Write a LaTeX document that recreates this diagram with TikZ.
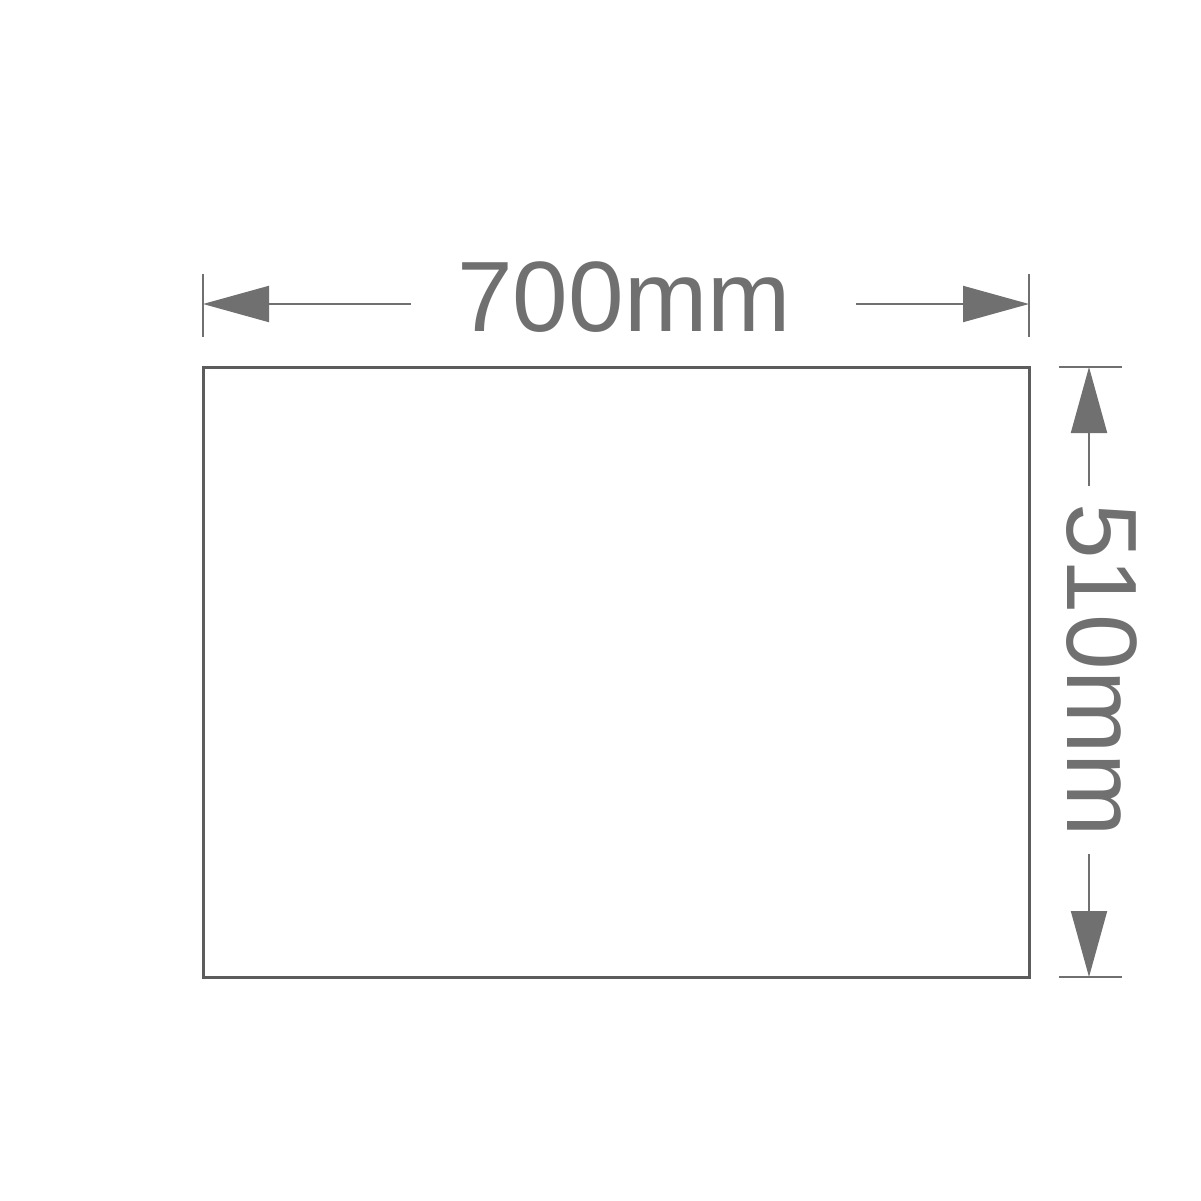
\documentclass[tikz,border=0pt]{standalone}
\usepackage{fontspec}
\setmainfont{Liberation Sans}
\usetikzlibrary{arrows.meta}
\definecolor{dimgray}{HTML}{707070}
\definecolor{boxgray}{HTML}{5C5C5C}
\tikzset{
  dimline/.style={draw=dimgray, line width=2pt, -{Triangle[length=66pt,width=36pt]}, color=dimgray},
  extline/.style={draw=dimgray, line width=2pt},
  dimtext/.style={text=dimgray, font=\fontsize{100}{120}\selectfont, inner sep=0pt, anchor=base},
  panel/.style={draw=boxgray, line width=3pt}
}
\begin{document}
\begin{tikzpicture}[x=1pt,y=-1pt]
\useasboundingbox (0,0) rectangle (1201,1201);
% panel
\draw[panel] (203,367) rectangle (1029,977);
% horizontal dimension
\coordinate (hl) at (203,304);
\coordinate (hr) at (1029,304);
\coordinate (hla) at (411,304);
\coordinate (hra) at (856,304);
\node[dimtext] (wtext) at (624,331) {700mm};
\draw[dimline] (hla) -- (hl);
\draw[dimline] (hra) -- (hr);
\coordinate (e1a) at (203,274); \coordinate (e1b) at (203,337);
\coordinate (e2a) at (1029,274); \coordinate (e2b) at (1029,337);
\draw[extline] (e1a) -- (e1b);
\draw[extline] (e2a) -- (e2b);
% vertical dimension
\coordinate (vt) at (1089,367);
\coordinate (vb) at (1089,977);
\coordinate (vta) at (1089,486);
\coordinate (vba) at (1089,854);
\node[dimtext, rotate=-90] (htext) at (1067,670) {510mm};
\draw[dimline] (vta) -- (vt);
\draw[dimline] (vba) -- (vb);
\coordinate (e3a) at (1059,367); \coordinate (e3b) at (1122,367);
\coordinate (e4a) at (1059,977); \coordinate (e4b) at (1122,977);
\draw[extline] (e3a) -- (e3b);
\draw[extline] (e4a) -- (e4b);
\end{tikzpicture}
\end{document}
